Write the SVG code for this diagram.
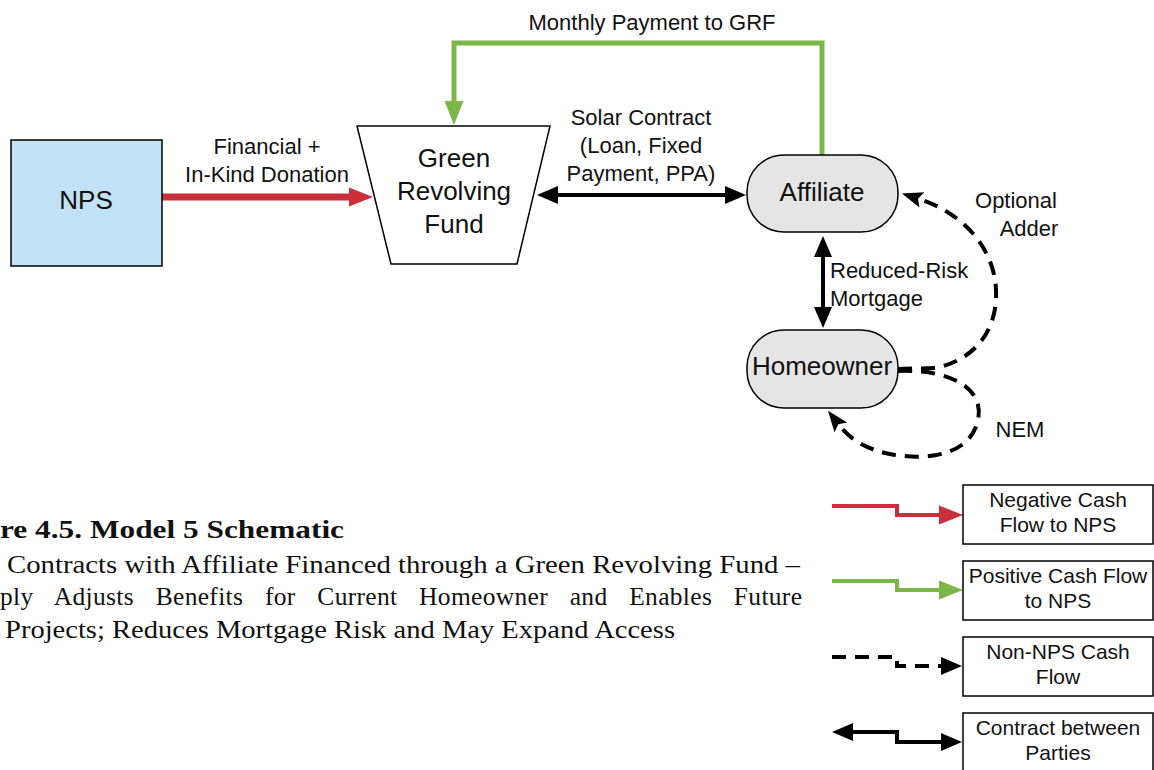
<svg xmlns="http://www.w3.org/2000/svg" width="1154" height="770" viewBox="0 0 1154 770">
<style>
.t{font-family:"Liberation Sans",Arial,sans-serif;fill:#111;text-anchor:middle}
.s22{font-size:22px}
.s26{font-size:26px}
.lg{font-size:21px}
.cap{font-family:"Liberation Serif","Times New Roman",serif;font-size:25.5px;fill:#111}
.red{stroke:#cc2f3c;stroke-width:7;fill:none}
.grn{stroke:#7ab648;stroke-width:5;fill:none}
.blk{stroke:#000;stroke-width:4;fill:none}
.dsh{stroke:#000;stroke-width:4;fill:none;stroke-dasharray:14 9}
.box{fill:#fff;stroke:#000;stroke-width:1.5}
.pill{fill:#e5e5e5;stroke:#000;stroke-width:1.5}
</style>
<defs>
<marker id="aR" markerUnits="userSpaceOnUse" markerWidth="26" markerHeight="22" refX="1" refY="11" orient="auto"><path d="M0,1.5 L24,11 L0,20.5 Z" fill="#cc2f3c"/></marker>
<marker id="aG" markerUnits="userSpaceOnUse" markerWidth="26" markerHeight="22" refX="1" refY="11" orient="auto"><path d="M0,1.5 L24,11 L0,20.5 Z" fill="#7ab648"/></marker>
<marker id="aB" markerUnits="userSpaceOnUse" markerWidth="24" markerHeight="22" refX="1" refY="11" orient="auto"><path d="M0,2 L21,11 L0,20 Z" fill="#000"/></marker>
<marker id="aBs" markerUnits="userSpaceOnUse" markerWidth="24" markerHeight="22" refX="20" refY="11" orient="auto"><path d="M21,2 L0,11 L21,20 Z" fill="#000"/></marker>
<marker id="aD" markerUnits="userSpaceOnUse" markerWidth="24" markerHeight="22" refX="3" refY="11" orient="auto"><path d="M0,3 L21,11 L0,19 L4,11 Z" fill="#000"/></marker>
</defs>

<g id="connectors">
<path class="red" d="M162,197 L350,197" marker-end="url(#aR)"/>
<path class="grn" d="M822,155 L822,43 L454,43 L454,102" marker-end="url(#aG)"/>
<path class="blk" d="M557,195 L726,195" marker-start="url(#aBs)" marker-end="url(#aB)"/>
<path class="blk" d="M823,256 L823,308" marker-start="url(#aBs)" marker-end="url(#aB)"/>
<path class="dsh" d="M898,369 L935,368 C975,360 998,330 996,290 C994,245 960,212 919,199" marker-end="url(#aD)"/>
<path class="dsh" d="M898,371 C950,369 985,388 978,420 C970,455 930,460 895,455 C865,450 849,438 839,425" marker-end="url(#aD)"/>
</g>

<g id="nps">
<rect x="11" y="140" width="151" height="126" fill="#c1e2f5" stroke="#000" stroke-width="1.5"/>
<text class="t s26" x="86" y="209">NPS</text>
</g>

<g id="grf">
<path d="M357,126 L550,126 L517,264 L391,264 Z" class="box"/>
<text class="t s26" x="454" y="167">Green</text>
<text class="t s26" x="454" y="200">Revolving</text>
<text class="t s26" x="454" y="233">Fund</text>
</g>

<g id="affiliate">
<rect x="747" y="155" width="151" height="77" rx="37" class="pill"/>
<text class="t s26" x="822" y="201">Affiliate</text>
</g>

<g id="homeowner">
<rect x="747" y="330" width="151" height="78" rx="37" class="pill"/>
<text class="t s26" x="822" y="375">Homeowner</text>
</g>

<g id="labels">
<text class="t s22" x="652" y="30">Monthly Payment to GRF</text>
<text class="t s22" x="267" y="154">Financial +</text>
<text class="t s22" x="267" y="182">In-Kind Donation</text>
<text class="t s22" x="641" y="125">Solar Contract</text>
<text class="t s22" x="641" y="153">(Loan, Fixed</text>
<text class="t s22" x="641" y="181">Payment, PPA)</text>
<text class="t s22" x="830" y="278" style="text-anchor:start">Reduced-Risk</text>
<text class="t s22" x="830" y="306" style="text-anchor:start">Mortgage</text>
<text class="t s22" x="1016" y="208">Optional</text>
<text class="t s22" x="1029" y="236">Adder</text>
<text class="t s22" x="1020" y="437">NEM</text>
</g>

<g id="caption">
<text class="cap" x="0" y="538" font-weight="bold" textLength="344" lengthAdjust="spacingAndGlyphs">re 4.5. Model 5 Schematic</text>
<text class="cap" x="7" y="573" textLength="793" lengthAdjust="spacingAndGlyphs">Contracts with Affiliate Financed through a Green Revolving Fund –</text>
<text class="cap" x="0" y="605" style="word-spacing:15px" textLength="802" lengthAdjust="spacing">ply Adjusts Benefits for Current Homeowner and Enables Future</text>
<text class="cap" x="5" y="638" textLength="670" lengthAdjust="spacingAndGlyphs">Projects; Reduces Mortgage Risk and May Expand Access</text>
</g>

<g id="legend">
<path class="red" style="stroke-width:4" d="M832,506 L897,506 L897,515 L940,515" marker-end="url(#aR)"/>
<path class="grn" style="stroke-width:4" d="M832,581 L897,581 L897,590 L940,590" marker-end="url(#aG)"/>
<path class="dsh" d="M832,657 L897,657 L897,666 L942,666" marker-end="url(#aB)"/>
<path class="blk" d="M852,732 L897,732 L897,742 L942,742" marker-start="url(#aBs)" marker-end="url(#aB)"/>
<rect x="963" y="485" width="190" height="59" class="box"/>
<text class="t lg" x="1058" y="507">Negative Cash</text>
<text class="t lg" x="1058" y="532">Flow to NPS</text>
<rect x="963" y="561" width="190" height="59" class="box"/>
<text class="t lg" x="1058" y="583">Positive Cash Flow</text>
<text class="t lg" x="1058" y="608">to NPS</text>
<rect x="963" y="637" width="190" height="59" class="box"/>
<text class="t lg" x="1058" y="659">Non-NPS Cash</text>
<text class="t lg" x="1058" y="684">Flow</text>
<rect x="963" y="713" width="190" height="59" class="box"/>
<text class="t lg" x="1058" y="735">Contract between</text>
<text class="t lg" x="1058" y="760">Parties</text>
</g>
</svg>
